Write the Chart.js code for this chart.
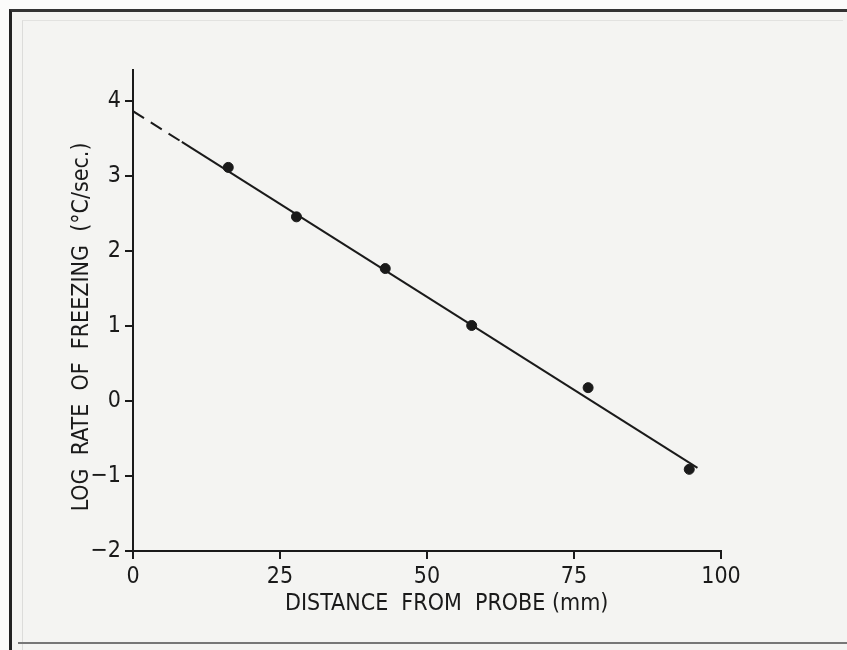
<!DOCTYPE html>
<html>
<head>
<meta charset="utf-8">
<script src="https://cdn.jsdelivr.net/npm/chart.js@4/dist/chart.umd.min.js"></script>
<style>
  body { margin: 0; background: #fbfbfa; }
  #wrap { position: relative; width: 847px; height: 650px; overflow: hidden; }
  #paper { position: absolute; left: 9px; top: 9px; width: 850px; height: 660px;
           border-left: 3px solid #222; border-top: 3px solid #333; background: #f4f4f2; }
  #inner { position: absolute; left: 22px; top: 20px; width: 820px; height: 640px;
           border-left: 1px solid #dcdcda; border-top: 1px solid #e2e2e0; }
  #bottom { position: absolute; left: 18px; top: 642px; width: 830px; height: 0;
            border-top: 2px solid #777; }
  canvas { position: absolute; left: 0; top: 0; }
</style>
</head>
<body>
<div id="wrap">
  <div id="paper"></div>
  <div id="inner"></div>
  <div id="bottom"></div>
  <canvas id="myChart" width="847" height="650"></canvas>
</div>
<script>
// measured points
let distance = [16.2, 27.8, 42.9, 57.6, 77.4, 94.6];
let logRate = [3.12, 2.46, 1.77, 1.01, 0.18, -0.91];

// fitted line: dashed extrapolation then solid part
let dashX = [0, 8.3];
let dashY = [3.87, 3.46];
let fitX = [8.3, 96.0];
let fitY = [3.46, -0.89];

let xTicks = [0, 25, 50, 75, 100];
let yTicks = [-2, -1, 0, 1, 2, 3, 4];

let ink = "#1a1a1a";
let fontFam = "'Liberation Sans Narrow', 'DejaVu Sans Condensed', 'Roboto', sans-serif";

function pts(xs, ys) {
  let out = [];
  for (let i = 0; i < xs.length; i++) {
    out.push({x: xs[i], y: ys[i]});
  }
  return out;
}

let ctx = document.getElementById("myChart").getContext("2d");

let myChart = new Chart(ctx, {
  type: 'scatter',
  data: {
    datasets: [
      {
        label: 'measured',
        data: pts(distance, logRate),
        pointRadius: 5,
        pointBackgroundColor: ink,
        pointBorderColor: ink,
        showLine: false
      },
      {
        label: 'fit',
        data: pts(fitX, fitY),
        showLine: true,
        borderColor: ink,
        borderWidth: 2,
        pointRadius: 0
      },
      {
        label: 'extrapolated',
        data: pts(dashX, dashY),
        showLine: true,
        borderColor: ink,
        borderWidth: 2,
        borderDash: [13, 8],
        pointRadius: 0
      }
    ]
  },
  options: {
    responsive: false,
    animation: false,
    layout: { padding: { top: 70, right: 126, left: 0, bottom: 0 } },
    plugins: { legend: { display: false }, tooltip: { enabled: false } },
    scales: {
      x: {
        type: 'linear',
        min: 0,
        max: 100,
        afterBuildTicks: function(s) { s.ticks = xTicks.map(function(v) { return {value: v}; }); },
        afterFit: function(s) { s.height = 99; },
        grid: { drawOnChartArea: false, tickLength: 8, color: ink, lineWidth: 2 },
        border: { color: ink, width: 2 },
        ticks: { color: ink, padding: 4, font: { family: fontFam, size: 23 } },
        title: {
          display: true,
          text: '      DISTANCE  FROM  PROBE (mm)',
          color: ink,
          font: { family: fontFam, size: 23 },
          padding: { top: 0, bottom: 32 }
        }
      },
      y: {
        type: 'linear',
        min: -2,
        max: 4.42,
        afterBuildTicks: function(s) { s.ticks = yTicks.map(function(v) { return {value: v}; }); },
        afterFit: function(s) { s.width = 133; },
        grid: { drawOnChartArea: false, tickLength: 8, color: ink, lineWidth: 2 },
        border: { color: ink, width: 2 },
        ticks: {
          color: ink, padding: 4, font: { family: fontFam, size: 23 },
          callback: function(v) { return v < 0 ? '\u2212' + Math.abs(v) : '' + v; }
        },
        title: {
          display: true,
          text: 'LOG  RATE  OF  FREEZING  (\u00B0C/sec.)     ',
          color: ink,
          font: { family: fontFam, size: 23 },
          padding: { top: 68, bottom: 0 }
        }
      }
    }
  }
});
</script>
</body>
</html>
